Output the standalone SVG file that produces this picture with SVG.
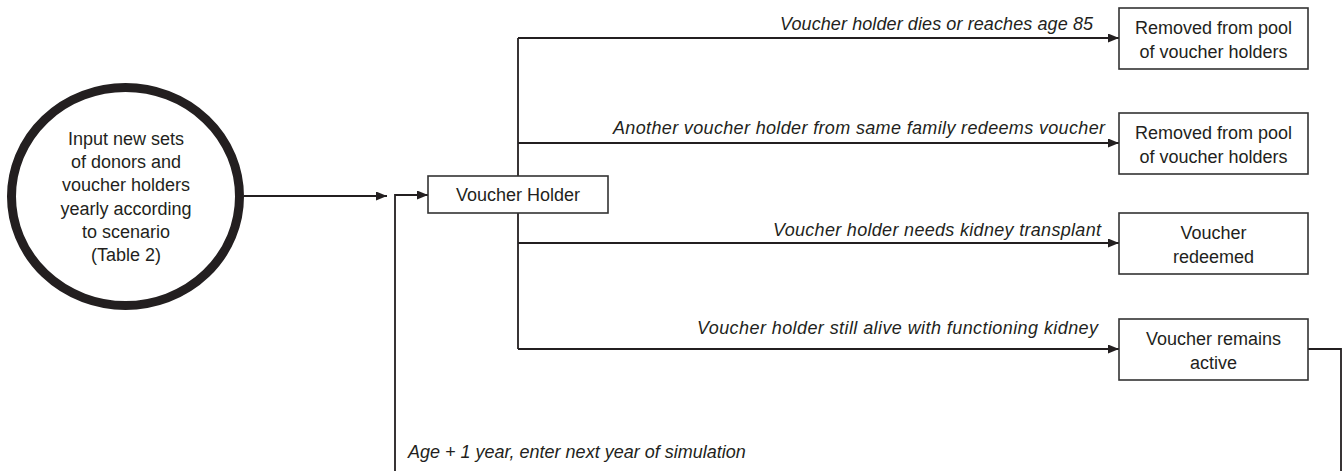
<svg xmlns="http://www.w3.org/2000/svg" width="1343" height="471" viewBox="0 0 1343 471">
<style>
.t{font-family:"Liberation Sans",Arial,sans-serif;font-size:18px;fill:#231f20;text-anchor:middle}
.l{font-family:"Liberation Sans",Arial,sans-serif;font-size:18px;font-style:italic;fill:#231f20}
.box{fill:#fff;stroke:#333;stroke-width:1.6}
.c{fill:none;stroke:#231f20;stroke-width:1.8}
</style>
<defs>
<marker id="ah" markerWidth="11" markerHeight="9" refX="11" refY="4.5" orient="auto" markerUnits="userSpaceOnUse">
<path d="M0,0 L11,4.5 L0,9 Z" fill="#231f20"/>
</marker>
</defs>
<g id="connectors">
<line class="c" x1="244" y1="196" x2="387" y2="196" marker-end="url(#ah)"/>
<path class="c" d="M1308,349 H1341 V474 H395 V195 H428" marker-end="url(#ah)"/>
<line class="c" x1="518" y1="38" x2="518" y2="349"/>
<line class="c" x1="518" y1="38" x2="1119" y2="38" marker-end="url(#ah)"/>
<line class="c" x1="518" y1="143" x2="1119" y2="143" marker-end="url(#ah)"/>
<line class="c" x1="518" y1="243" x2="1119" y2="243" marker-end="url(#ah)"/>
<line class="c" x1="518" y1="349" x2="1119" y2="349" marker-end="url(#ah)"/>
<text class="l" x="780" y="30" textLength="313">Voucher holder dies or reaches age 85</text>
<text class="l" x="613" y="134" textLength="492">Another voucher holder from same family redeems voucher</text>
<text class="l" x="773" y="236" textLength="328">Voucher holder needs kidney transplant</text>
<text class="l" x="697" y="334" textLength="401">Voucher holder still alive with functioning kidney</text>
<text class="l" x="408" y="458">Age + 1 year, enter next year of simulation</text>
</g>
<g id="input">
<ellipse cx="125.5" cy="196.5" rx="114" ry="109" fill="#fff" stroke="#231f20" stroke-width="9"/>
<text class="t" x="126" y="145">Input new sets</text>
<text class="t" x="126" y="168">of donors and</text>
<text class="t" x="126" y="191">voucher holders</text>
<text class="t" x="126" y="215">yearly according</text>
<text class="t" x="126" y="238">to scenario</text>
<text class="t" x="126" y="261">(Table 2)</text>
</g>
<g id="voucher-holder">
<rect class="box" x="428" y="176" width="180" height="37"/>
<text class="t" x="518" y="200.5">Voucher Holder</text>
</g>
<g id="removed-1">
<rect class="box" x="1119" y="8" width="189" height="61"/>
<text class="t" x="1213.5" y="33.5">Removed from pool</text>
<text class="t" x="1213.5" y="57.5">of voucher holders</text>
</g>
<g id="removed-2">
<rect class="box" x="1119" y="113" width="189" height="61"/>
<text class="t" x="1213.5" y="138.5">Removed from pool</text>
<text class="t" x="1213.5" y="162.5">of voucher holders</text>
</g>
<g id="redeemed">
<rect class="box" x="1119" y="213" width="189" height="61"/>
<text class="t" x="1213.5" y="239">Voucher</text>
<text class="t" x="1213.5" y="263">redeemed</text>
</g>
<g id="active">
<rect class="box" x="1119" y="319" width="189" height="61"/>
<text class="t" x="1213.5" y="344.5">Voucher remains</text>
<text class="t" x="1213.5" y="368.5">active</text>
</g>
</svg>
